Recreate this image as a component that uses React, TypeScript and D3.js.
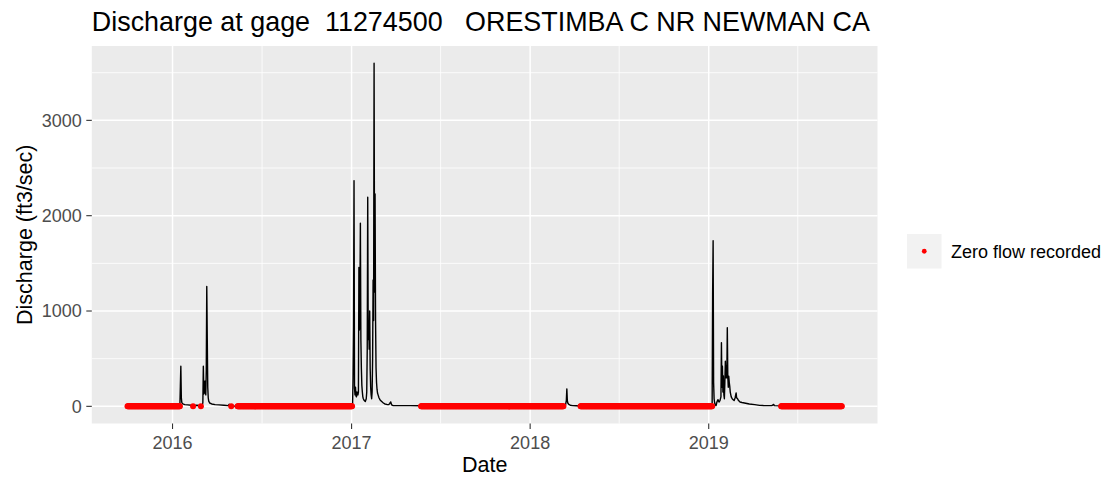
import React from 'react';
import * as d3 from 'd3';

// ---- Data ----
const titleText = 'Discharge at gage  11274500   ORESTIMBA C NR NEWMAN CA';
const xLabel = 'Date';
const yLabel = 'Discharge (ft3/sec)';
const legendLabel = 'Zero flow recorded';

// days with zero flow recorded (inclusive ranges)
const zeroPeriods: [string, string][] = [
  ['2015-10-01', '2016-01-16'],
  ['2016-02-12', '2016-02-12'],
  ['2016-02-28', '2016-02-28'],
  ['2016-04-30', '2016-04-30'],
  ['2016-05-13', '2017-01-02'],
  ['2017-05-23', '2018-03-10'],
  ['2018-04-14', '2019-01-08'],
  ['2019-05-29', '2019-09-30'],
];

// non-zero daily discharge readings (ft3/sec)
const flow2016: [string, number][] = [
  ['2016-01-17', 210], ['2016-01-18', 421], ['2016-01-19', 90], ['2016-01-20', 40],
  ['2016-01-22', 25], ['2016-01-26', 18], ['2016-02-01', 15], ['2016-02-08', 12],
  ['2016-02-11', 5], ['2016-02-13', 6], ['2016-02-20', 12], ['2016-02-27', 5],
  ['2016-02-29', 10], ['2016-03-01', 12], ['2016-03-02', 15], ['2016-03-03', 40],
  ['2016-03-04', 421], ['2016-03-05', 130], ['2016-03-06', 263], ['2016-03-07', 140],
  ['2016-03-08', 263], ['2016-03-09', 120], ['2016-03-10', 380], ['2016-03-11', 1257],
  ['2016-03-12', 720], ['2016-03-13', 200], ['2016-03-14', 90], ['2016-03-15', 55],
  ['2016-03-17', 35], ['2016-03-21', 25], ['2016-03-28', 18], ['2016-04-05', 15],
  ['2016-04-15', 12], ['2016-04-24', 8], ['2016-04-26', 22], ['2016-04-27', 8],
  ['2016-04-29', 2], ['2016-05-01', 3], ['2016-05-05', 2], ['2016-05-12', 1],
];

const flow2017: [string, number][] = [
  ['2017-01-03', 5], ['2017-01-04', 300], ['2017-01-05', 842], ['2017-01-06', 2368],
  ['2017-01-07', 190], ['2017-01-08', 120], ['2017-01-09', 200], ['2017-01-10', 110],
  ['2017-01-11', 100], ['2017-01-12', 150], ['2017-01-13', 130], ['2017-01-14', 120],
  ['2017-01-15', 150], ['2017-01-16', 1457], ['2017-01-17', 800], ['2017-01-18', 1100],
  ['2017-01-19', 1920], ['2017-01-20', 700], ['2017-01-21', 400], ['2017-01-22', 220],
  ['2017-01-23', 150], ['2017-01-24', 100], ['2017-01-25', 80], ['2017-01-27', 60],
  ['2017-01-29', 50], ['2017-01-31', 80], ['2017-02-01', 150], ['2017-02-02', 600],
  ['2017-02-03', 2194], ['2017-02-04', 700], ['2017-02-05', 895], ['2017-02-06', 600],
  ['2017-02-07', 1000], ['2017-02-08', 400], ['2017-02-09', 200], ['2017-02-10', 120],
  ['2017-02-11', 80], ['2017-02-12', 150], ['2017-02-13', 500], ['2017-02-14', 1326],
  ['2017-02-15', 900], ['2017-02-16', 3600], ['2017-02-17', 1200], ['2017-02-18', 2228],
  ['2017-02-19', 900], ['2017-02-20', 404], ['2017-02-21', 250], ['2017-02-22', 180],
  ['2017-02-23', 140], ['2017-02-24', 123], ['2017-02-26', 90], ['2017-02-28', 70],
  ['2017-03-03', 53], ['2017-03-07', 35], ['2017-03-10', 25], ['2017-03-14', 20],
  ['2017-03-18', 18], ['2017-03-20', 30], ['2017-03-22', 46], ['2017-03-24', 15],
  ['2017-03-27', 8], ['2017-04-10', 7], ['2017-05-01', 7], ['2017-05-22', 6],
];

const flow2018: [string, number][] = [
  ['2018-03-11', 3], ['2018-03-14', 5], ['2018-03-16', 63], ['2018-03-17', 183],
  ['2018-03-18', 60], ['2018-03-19', 35], ['2018-03-21', 20], ['2018-03-24', 12],
  ['2018-03-29', 8], ['2018-04-05', 6], ['2018-04-13', 3],
];

const flow2019: [string, number][] = [
  ['2019-01-09', 1176], ['2019-01-10', 1737], ['2019-01-11', 250], ['2019-01-12', 80],
  ['2019-01-13', 40], ['2019-01-14', 20], ['2019-01-15', 12], ['2019-01-16', 8],
  ['2019-01-17', 30], ['2019-01-18', 50], ['2019-01-20', 70], ['2019-01-22', 45],
  ['2019-01-24', 60], ['2019-01-26', 100], ['2019-01-27', 667], ['2019-01-28', 200],
  ['2019-01-29', 421], ['2019-01-30', 150], ['2019-01-31', 320], ['2019-02-01', 120],
  ['2019-02-02', 80], ['2019-02-03', 250], ['2019-02-04', 473], ['2019-02-05', 300],
  ['2019-02-06', 430], ['2019-02-07', 300], ['2019-02-08', 825], ['2019-02-09', 316],
  ['2019-02-10', 200], ['2019-02-11', 316], ['2019-02-12', 250], ['2019-02-13', 210],
  ['2019-02-14', 150], ['2019-02-16', 100], ['2019-02-18', 80], ['2019-02-20', 70],
  ['2019-02-22', 60], ['2019-02-24', 90], ['2019-02-26', 141], ['2019-02-27', 90],
  ['2019-03-01', 80], ['2019-03-03', 60], ['2019-03-06', 45], ['2019-03-10', 40],
  ['2019-03-15', 35], ['2019-03-25', 25], ['2019-04-05', 18], ['2019-04-15', 10],
  ['2019-04-25', 8], ['2019-05-10', 7], ['2019-05-14', 20], ['2019-05-15', 7],
  ['2019-05-28', 5],
];

const yTicks = [0, 1000, 2000, 3000];
const yMinorTicks = [500, 1500, 2500, 3500];
const xTickLabels = ['2016', '2017', '2018', '2019'];
const xMinorDates = ['2016-07-02', '2017-07-02', '2018-07-02', '2019-07-02'];

// ---- Layout ----
const W = 1105;
const H = 477;
const panel = { left: 91.8, right: 877.5, top: 46, bottom: 423.5 };
const FONT = '"Liberation Sans", Arial, sans-serif';

export default function App() {
  const parse = d3.utcParse('%Y-%m-%d');
  const zeroDays = zeroPeriods.flatMap(([a, b]) =>
    d3.utcDay.range(parse(a)!, d3.utcDay.offset(parse(b)!, 1))
  );
  const flows = [...flow2016, ...flow2017, ...flow2018, ...flow2019].map(([d, v]) => ({
    date: parse(d)!,
    value: v,
  }));
  const series = [...zeroDays.map((d) => ({ date: d, value: 0 })), ...flows].sort(
    (a, b) => +a.date - +b.date
  );

  const [dMin, dMax] = d3.extent(series, (d) => +d.date) as [number, number];
  const dPad = (dMax - dMin) * 0.05;
  const x = d3
    .scaleUtc()
    .domain([new Date(dMin - dPad), new Date(dMax + dPad)])
    .range([panel.left, panel.right]);

  const vMax = d3.max(series, (d) => d.value)!;
  const vPad = vMax * 0.05;
  const y = d3.scaleLinear().domain([-vPad, vMax + vPad]).range([panel.bottom, panel.top]);

  const line = d3
    .line<{ date: Date; value: number }>()
    .x((d) => x(d.date))
    .y((d) => y(d.value));

  const xMajor = xTickLabels.map((t) => ({ label: t, date: parse(`${t}-01-01`)! }));
  const xMinor = xMinorDates.map((d) => parse(d)!);

  const legendKey = { x: 907, y: 234, size: 34.5 };

  return (
    <div style={{ position: 'absolute', left: 0, top: 0, width: W, height: H }}>
      <svg width={W} height={H} style={{ display: 'block', background: '#fff' }} fontFamily={FONT}>
        <rect x={0} y={0} width={W} height={H} fill="#fff" />
        {/* panel */}
        <rect
          x={panel.left}
          y={panel.top}
          width={panel.right - panel.left}
          height={panel.bottom - panel.top}
          fill="#EBEBEB"
        />
        {/* minor grid */}
        {yMinorTicks.map((t) => (
          <line key={'ym' + t} x1={panel.left} x2={panel.right} y1={y(t)} y2={y(t)} stroke="#fff" strokeWidth={0.8} />
        ))}
        {xMinor.map((d, i) => (
          <line key={'xm' + i} x1={x(d)} x2={x(d)} y1={panel.top} y2={panel.bottom} stroke="#fff" strokeWidth={0.8} />
        ))}
        {/* major grid */}
        {yTicks.map((t) => (
          <line key={'yg' + t} x1={panel.left} x2={panel.right} y1={y(t)} y2={y(t)} stroke="#fff" strokeWidth={1.5} />
        ))}
        {xMajor.map((t) => (
          <line key={'xg' + t.label} x1={x(t.date)} x2={x(t.date)} y1={panel.top} y2={panel.bottom} stroke="#fff" strokeWidth={1.5} />
        ))}
        {/* discharge line */}
        <path d={line(series)!} fill="none" stroke="#000" strokeWidth={1.4} strokeLinejoin="round" />
        {/* zero-flow points */}
        {zeroDays.map((d, i) => (
          <circle key={'z' + i} cx={x(d)} cy={y(0)} r={3} fill="#FF0000" />
        ))}
        {/* y axis */}
        {yTicks.map((t) => (
          <g key={'yt' + t}>
            <line x1={panel.left - 5.5} x2={panel.left} y1={y(t)} y2={y(t)} stroke="#333" strokeWidth={1.1} />
            <text x={panel.left - 10} y={y(t)} dy="0.35em" textAnchor="end" fontSize={18} fill="#4D4D4D">
              {t}
            </text>
          </g>
        ))}
        {/* x axis */}
        {xMajor.map((t) => (
          <g key={'xt' + t.label}>
            <line x1={x(t.date)} x2={x(t.date)} y1={panel.bottom} y2={panel.bottom + 5.5} stroke="#333" strokeWidth={1.1} />
            <text x={x(t.date)} y={449} textAnchor="middle" fontSize={18} fill="#4D4D4D">
              {t.label}
            </text>
          </g>
        ))}
        {/* titles */}
        <text x={panel.left} y={31} fontSize={26.9} fill="#000" style={{ whiteSpace: 'pre' }}>
          {titleText}
        </text>
        <text x={(panel.left + panel.right) / 2} y={472} textAnchor="middle" fontSize={21.5} fill="#000">
          {xLabel}
        </text>
        <text
          transform={`translate(32, ${(panel.top + panel.bottom) / 2}) rotate(-90)`}
          textAnchor="middle"
          fontSize={21.5}
          fill="#000"
        >
          {yLabel}
        </text>
        {/* legend */}
        <rect x={legendKey.x} y={legendKey.y} width={legendKey.size} height={legendKey.size} fill="#F2F2F2" />
        <circle cx={legendKey.x + legendKey.size / 2} cy={legendKey.y + legendKey.size / 2} r={2.4} fill="#FF0000" />
        <text x={951} y={legendKey.y + legendKey.size / 2} dy="0.35em" fontSize={18} fill="#000">
          {legendLabel}
        </text>
      </svg>
    </div>
  );
}
